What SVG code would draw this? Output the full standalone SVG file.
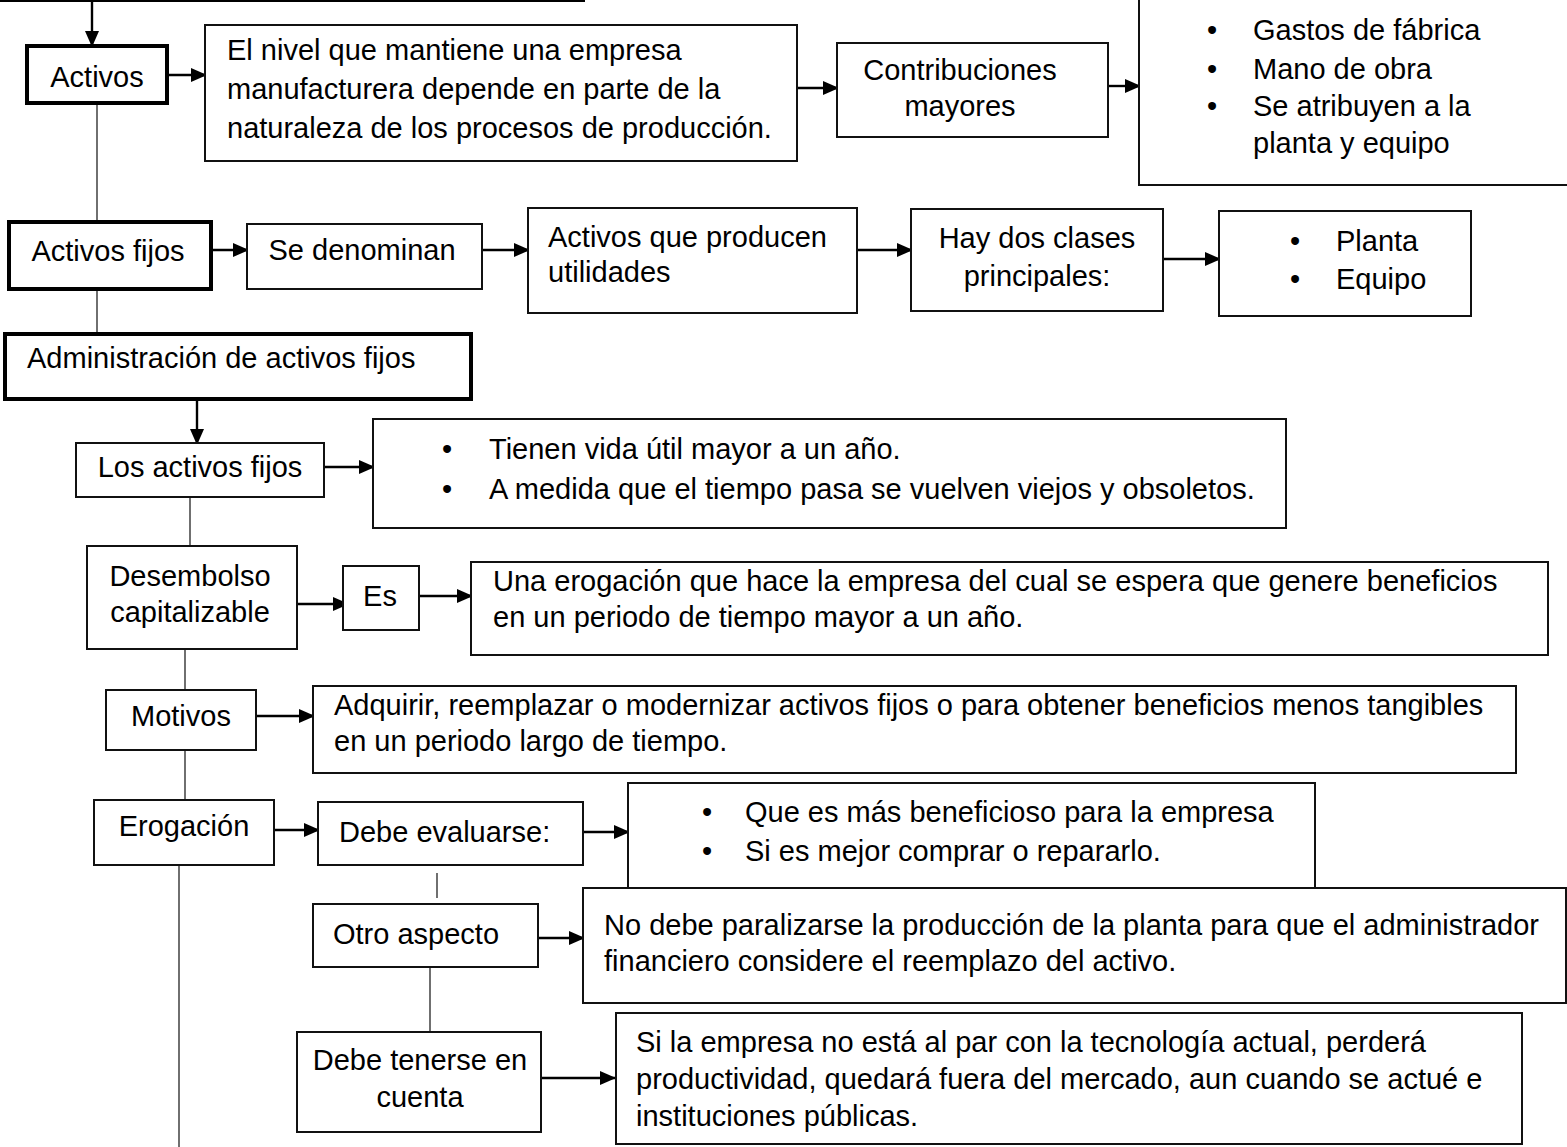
<svg xmlns="http://www.w3.org/2000/svg" width="1567" height="1147" viewBox="0 0 1567 1147">
<style>
.b{fill:#fff;stroke:#111;stroke-width:2}
.k{fill:#fff;stroke:#000;stroke-width:4}
.t{font-family:"Liberation Sans",Arial,sans-serif;font-size:29px;fill:#000}
.c{text-anchor:middle}
.a{stroke:#000;stroke-width:2.4;fill:none;marker-end:url(#ah)}
.l{stroke:#222;stroke-width:1.3;fill:none}
</style>
<defs>
<marker id="ah" markerUnits="userSpaceOnUse" markerWidth="16" markerHeight="14" refX="15" refY="7" orient="auto">
<path d="M0,0 L16,7 L0,14 z" fill="#000"/>
</marker>
</defs>
<rect width="1567" height="1147" fill="#fff"/>
<g id="connectors">
<line x1="0" y1="1" x2="585" y2="1" stroke="#000" stroke-width="2.2"/>
<line class="a" x1="92" y1="0" x2="92" y2="46"/>
<line class="a" x1="167" y1="75" x2="206" y2="75"/>
<line class="a" x1="797" y1="88" x2="838" y2="88"/>
<line class="a" x1="1108" y1="86" x2="1140" y2="86"/>
<line class="l" x1="97" y1="103" x2="97" y2="222"/>
<line class="a" x1="211" y1="250" x2="248" y2="250"/>
<line class="a" x1="482" y1="250" x2="529" y2="250"/>
<line class="a" x1="857" y1="250" x2="912" y2="250"/>
<line class="a" x1="1163" y1="259" x2="1220" y2="259"/>
<line class="l" x1="97" y1="289" x2="97" y2="334"/>
<line class="a" x1="197" y1="399" x2="197" y2="444"/>
<line class="a" x1="324" y1="467" x2="374" y2="467"/>
<line class="l" x1="190" y1="497" x2="190" y2="546"/>
<line class="a" x1="297" y1="604" x2="348" y2="604"/>
<line class="a" x1="419" y1="596" x2="472" y2="596"/>
<line class="l" x1="185" y1="649" x2="185" y2="690"/>
<line class="a" x1="256" y1="716" x2="314" y2="716"/>
<line class="l" x1="185" y1="750" x2="185" y2="800"/>
<line class="a" x1="274" y1="830" x2="319" y2="830"/>
<line class="a" x1="583" y1="832" x2="629" y2="832"/>
<line class="l" x1="179" y1="865" x2="179" y2="1147"/>
<line class="l" x1="437" y1="873" x2="437" y2="898"/>
<line class="a" x1="538" y1="938" x2="584" y2="938"/>
<line class="l" x1="430" y1="967" x2="430" y2="1033"/>
<line class="a" x1="541" y1="1078" x2="615" y2="1078"/>
</g>
<g id="n-activos"><rect class="k" x="27" y="46" width="140" height="57"/><text class="t c" x="97" y="87">Activos</text></g>
<g id="n-nivel"><rect class="b" x="205" y="25" width="592" height="136"/>
<text class="t" x="227" y="60">El nivel que mantiene una empresa</text>
<text class="t" x="227" y="99">manufacturera depende en parte de la</text>
<text class="t" x="227" y="138">naturaleza de los procesos de producción.</text></g>
<g id="n-contrib"><rect class="b" x="837" y="43" width="271" height="94"/>
<text class="t c" x="960" y="80">Contribuciones</text><text class="t c" x="960" y="116">mayores</text></g>
<g id="n-gastos"><rect class="b" x="1139" y="-1" width="430" height="186"/>
<text class="t c" x="1212" y="40">•</text><text class="t" x="1253" y="40">Gastos de fábrica</text>
<text class="t c" x="1212" y="79">•</text><text class="t" x="1253" y="79">Mano de obra</text>
<text class="t c" x="1212" y="116">•</text><text class="t" x="1253" y="116">Se atribuyen a la</text>
<text class="t" x="1253" y="153">planta y equipo</text></g>
<g id="n-activosfijos"><rect class="k" x="9" y="222" width="202" height="67"/><text class="t c" x="108" y="261">Activos fijos</text></g>
<g id="n-denominan"><rect class="b" x="247" y="224" width="235" height="65"/><text class="t c" x="362" y="260">Se denominan</text></g>
<g id="n-producen"><rect class="b" x="528" y="208" width="329" height="105"/>
<text class="t" x="548" y="247">Activos que producen</text><text class="t" x="548" y="282">utilidades</text></g>
<g id="n-clases"><rect class="b" x="911" y="209" width="252" height="102"/>
<text class="t c" x="1037" y="248">Hay dos clases</text><text class="t c" x="1037" y="286">principales:</text></g>
<g id="n-planta"><rect class="b" x="1219" y="211" width="252" height="105"/>
<text class="t c" x="1295" y="251">•</text><text class="t" x="1336" y="251">Planta</text>
<text class="t c" x="1295" y="289">•</text><text class="t" x="1336" y="289">Equipo</text></g>
<g id="n-admin"><rect class="k" x="5" y="334" width="466" height="65"/><text class="t" x="27" y="368">Administración de activos fijos</text></g>
<g id="n-losactivos"><rect class="b" x="76" y="443" width="248" height="54"/><text class="t c" x="200" y="477">Los activos fijos</text></g>
<g id="n-tienen"><rect class="b" x="373" y="419" width="913" height="109"/>
<text class="t c" x="447" y="459">•</text><text class="t" x="489" y="459">Tienen vida útil mayor a un año.</text>
<text class="t c" x="447" y="499">•</text><text class="t" x="489" y="499">A medida que el tiempo pasa se vuelven viejos y obsoletos.</text></g>
<g id="n-desembolso"><rect class="b" x="87" y="546" width="210" height="103"/>
<text class="t c" x="190" y="586">Desembolso</text><text class="t c" x="190" y="622">capitalizable</text></g>
<g id="n-es"><rect class="b" x="343" y="566" width="76" height="64"/><text class="t c" x="380" y="606">Es</text></g>
<g id="n-erogacion-def"><rect class="b" x="471" y="562" width="1077" height="93"/>
<text class="t" x="493" y="591">Una erogación que hace la empresa del cual se espera que genere beneficios</text>
<text class="t" x="493" y="627">en un periodo de tiempo mayor a un año.</text></g>
<g id="n-motivos"><rect class="b" x="106" y="690" width="150" height="60"/><text class="t c" x="181" y="726">Motivos</text></g>
<g id="n-adquirir"><rect class="b" x="313" y="686" width="1203" height="87"/>
<text class="t" x="334" y="715">Adquirir, reemplazar o modernizar activos fijos o para obtener beneficios menos tangibles</text>
<text class="t" x="334" y="751">en un periodo largo de tiempo.</text></g>
<g id="n-erogacion"><rect class="b" x="94" y="800" width="180" height="65"/><text class="t c" x="184" y="836">Erogación</text></g>
<g id="n-evaluarse"><rect class="b" x="318" y="802" width="265" height="63"/><text class="t" x="339" y="842">Debe evaluarse:</text></g>
<g id="n-quees"><rect class="b" x="628" y="783" width="687" height="107"/>
<text class="t c" x="707" y="822">•</text><text class="t" x="745" y="822">Que es más beneficioso para la empresa</text>
<text class="t c" x="707" y="861">•</text><text class="t" x="745" y="861">Si es mejor comprar o repararlo.</text></g>
<g id="n-otro"><rect class="b" x="313" y="904" width="225" height="63"/><text class="t" x="333" y="944">Otro aspecto</text></g>
<g id="n-nodebe"><rect class="b" x="583" y="888" width="983" height="115"/>
<text class="t" x="604" y="935">No debe paralizarse la producción de la planta para que el administrador</text>
<text class="t" x="604" y="971">financiero considere el reemplazo del activo.</text></g>
<g id="n-tenerse"><rect class="b" x="297" y="1032" width="244" height="100"/>
<text class="t c" x="420" y="1070">Debe tenerse en</text><text class="t c" x="420" y="1107">cuenta</text></g>
<g id="n-sila"><rect class="b" x="616" y="1013" width="906" height="131"/>
<text class="t" x="636" y="1052">Si la empresa no está al par con la tecnología actual, perderá</text>
<text class="t" x="636" y="1089">productividad, quedará fuera del mercado, aun cuando se actué e</text>
<text class="t" x="636" y="1126">instituciones públicas.</text></g>
</svg>
